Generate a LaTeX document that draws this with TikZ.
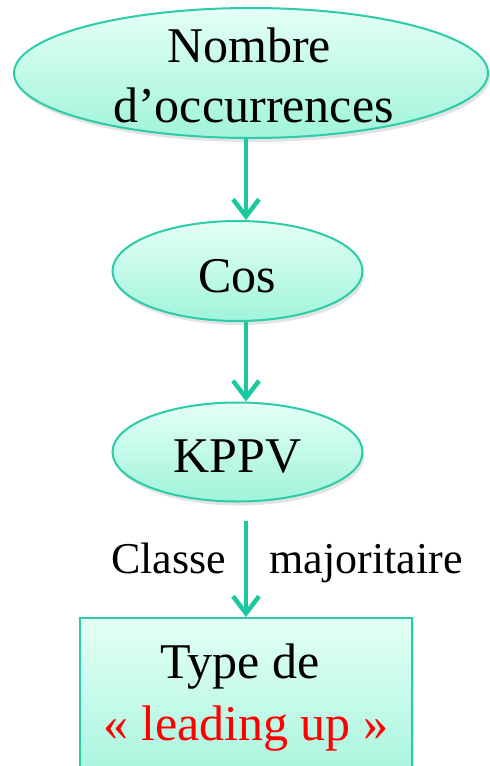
\documentclass[tikz,border=0pt]{standalone}
\usepackage{fontspec}
\setmainfont{Liberation Serif}
\usetikzlibrary{shapes.geometric,arrows.meta,shadows}
\definecolor{teal1}{RGB}{28,200,158}
\definecolor{edge1}{RGB}{44,204,168}
\definecolor{filltop}{RGB}{228,255,246}
\definecolor{fillbot}{RGB}{160,244,218}
\tikzset{
  bubble/.style={ellipse, draw=edge1, line width=2pt, top color=filltop, bottom color=fillbot,
    inner sep=0pt, drop shadow={opacity=0.22, shadow xshift=2pt, shadow yshift=-4pt}},
  boxnode/.style={rectangle, draw=edge1, line width=2pt, top color=filltop, bottom color=fillbot,
    inner sep=0pt, drop shadow={opacity=0.22, shadow xshift=2pt, shadow yshift=-4pt}},
  txt/.style={font=\fontsize{50}{60}\selectfont, align=center, inner sep=0pt},
  lbl/.style={font=\fontsize{44}{50}\selectfont, inner sep=0pt, anchor=base},
  flow/.style={draw=teal1, line width=4.5pt, -{Straight Barb[length=17pt,width=26pt,line width=4.5pt]}}
}
\begin{document}
\begin{tikzpicture}[x=1pt,y=-1pt]
  \clip (0,0) rectangle (490,766);
  \fill[white] (0,0) rectangle (490,766);
  \coordinate (ax) at (246,0);

  % shapes
  \node[bubble, minimum width=474pt, minimum height=130pt] (occ) at (251,73) {};
  \node[bubble, minimum width=250pt, minimum height=100pt] (cos) at (237.5,271) {};
  \node[bubble, minimum width=250pt, minimum height=99pt] (kppv) at (237.5,452) {};
  \node[boxnode, minimum width=332pt, minimum height=180pt] (type) at (246,708) {};

  % texts
  \node[txt, anchor=base] (t1a) at (249,62) {Nombre};
  \node[txt, anchor=base] (t1b) at (253.5,122) {d’occurrences};
  \node[txt, anchor=base] (t2) at (237.5,292) {Cos};
  \node[txt, anchor=base] (t3) at (237.5,472) {KPPV};
  \node[txt, anchor=base] (t4a) at (240,678) {Type de};
  \node[txt, anchor=base, text=red] (t4b) at (246,740) {« leading up »};

  % connectors
  \draw[flow] (occ.south -| ax) -- (cos.north -| ax);
  \draw[flow] (cos.south -| ax) -- (kppv.north -| ax);
  \draw[flow, shorten <=18pt] (kppv.south -| ax) -- (type.north -| ax);

  % edge label on the last connector
  \node[lbl] (c1) at (168.5,573) {Classe};
  \node[lbl] (c2) at (366,573) {majoritaire};
\end{tikzpicture}
\end{document}
